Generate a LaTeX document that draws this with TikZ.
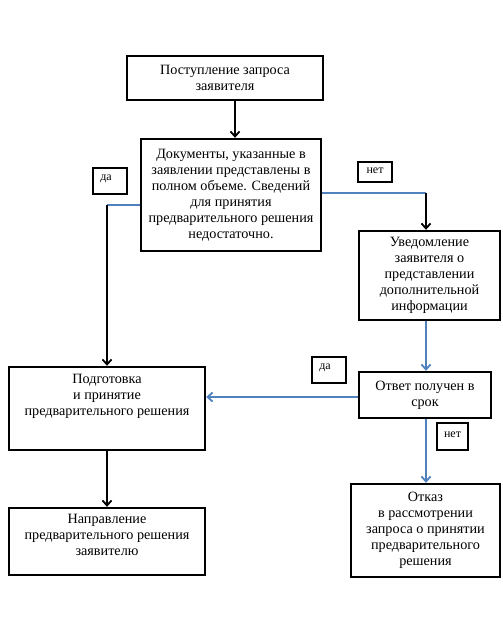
\documentclass[tikz,border=0pt]{standalone}
\usepackage{fontspec}
\setmainfont{Liberation Serif}
\usetikzlibrary{arrows.meta}
\definecolor{lineblue}{RGB}{79,129,189}
\begin{document}
\begin{tikzpicture}[x=1pt,y=-1pt,
  box/.style={draw=black,line width=2.4pt,inner sep=0pt,align=center,
    font=\fontsize{14.2}{16}\selectfont},
  tag/.style={draw=black,line width=1.6pt,inner sep=0pt},
  tagtxt/.style={inner sep=0pt,font=\fontsize{12}{12}\selectfont},
  txt/.style={inner sep=0pt,align=center,font=\fontsize{14.2}{16}\selectfont},
  blk/.style={draw=black,line width=2.4pt},
  bl/.style={draw=lineblue,line width=2.4pt},
  arr/.style={-{Straight Barb[length=5pt,width=9pt,line width=1.8pt]}}]
\useasboundingbox (0,0) rectangle (503,619);
\node[box,minimum width=196,minimum height=44] (b1) at (225,78)
  {Поступление запроса\\заявителя};
\node[box,minimum width=180,minimum height=112] (b2) at (231,195)
  {Документы, указанные в\\заявлении представлены в\\полном объеме. Сведений\\для принятия\\предварительного решения\\недостаточно.};
\node[box,minimum width=141,minimum height=89] (b3) at (429.5,275.5)
  {Уведомление\\заявителя о\\представлении\\дополнительной\\информации};
\node[box,minimum width=196,minimum height=83] (b4) at (107,408.5) {};
\node[txt,anchor=north] (t4) at ([yshift=-8pt]b4.north)
  {Подготовка\\ и принятие\\предварительного решения};
\node[box,minimum width=132,minimum height=46] (b5) at (425,395)
  {Ответ получен в\\срок};
\node[box,minimum width=196,minimum height=67] (b6) at (107,541.5) {};
\node[txt,anchor=north] (t6) at ([yshift=-7pt]b6.north)
  {Направление\\предварительного решения\\заявителю};
\node[box,minimum width=149,minimum height=93] (b7) at (425.5,530.5)
  {Отказ\\ в рассмотрении\\запроса о принятии\\предварительного\\решения};
\node[tag,minimum width=34,minimum height=26] (d1) at (110,181) {};
\node[tagtxt] (d1t) at (106,179) {да};
\node[tag,minimum width=34,minimum height=20] (n1) at (375,172) {};
\node[tagtxt] (n1t) at (375,170.5) {нет};
\node[tag,minimum width=34,minimum height=26] (d2) at (329,370) {};
\node[tagtxt] (d2t) at (325,368) {да};
\node[tag,minimum width=31,minimum height=27] (n2) at (452.5,436.5) {};
\node[tagtxt] (n2t) at (452.5,435) {нет};
\coordinate (c1) at (107,205);
\coordinate (c2) at (426,193);
\draw[blk,arr] ([xshift=10pt]b1.south) -- ([xshift=10pt]b1.south |- b2.north);
\draw[bl] ([yshift=-10pt]b2.west) -- (c1);
\draw[blk,arr] (c1) -- (c1 |- b4.north);
\draw[bl] ([yshift=2pt]b2.east) -- (c2);
\draw[blk,arr] (c2) -- (c2 |- b3.north);
\draw[bl,arr] (c2 |- b3.south) -- (c2 |- b5.north);
\draw[bl,arr] ([yshift=-2pt]b5.west) -- ([yshift=-2pt]b5.west -| b4.east);
\draw[bl,arr] (c2 |- b5.south) -- (c2 |- b7.north);
\draw[blk,arr] (b4.south) -- (b6.north);
\end{tikzpicture}
\end{document}
